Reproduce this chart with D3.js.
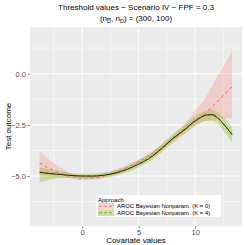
<!DOCTYPE html>
<html>
<head>
<meta charset="utf-8">
<script src="https://cdn.jsdelivr.net/npm/d3@7"></script>
<style>
  body { margin: 0; background: #fff; }
  svg { display: block; font-family: "Liberation Sans", Arial, sans-serif; }
</style>
</head>
<body>
<svg id="chart" width="245" height="245"></svg>
<script>
// Covariate grid and curves
const covariate = [-3.77, -3, -2, -1, 0, 1, 2, 3, 4, 5, 6, 7, 8, 9, 10, 11, 11.5, 12, 12.5, 13.27];
const trueThreshold = [-4.82, -4.87, -4.92, -4.97, -5.0, -5.0, -4.95, -4.85, -4.67, -4.42, -4.12, -3.68, -3.18, -2.76, -2.3, -2.02, -2.0, -2.16, -2.45, -2.98];
const k0Est = [-4.36, -4.6, -4.85, -5.02, -5.1, -5.08, -4.98, -4.8, -4.58, -4.3, -3.98, -3.6, -3.2, -2.78, -2.36, -1.9, -1.62, -1.34, -1.06, -0.63];
const k0Lower = [-4.95, -5.0, -5.05, -5.12, -5.2, -5.18, -5.08, -4.9, -4.68, -4.4, -4.1, -3.72, -3.32, -2.9, -2.5, -2.3, -2.25, -2.22, -2.2, -2.16];
const k0Upper = [-3.74, -4.15, -4.55, -4.85, -4.98, -4.97, -4.87, -4.7, -4.48, -4.2, -3.86, -3.48, -3.06, -2.5, -1.8, -1.1, -0.6, -0.1, 0.35, 1.09];
const k4Est = [-4.8, -4.86, -4.92, -4.97, -5.0, -5.0, -4.94, -4.83, -4.65, -4.4, -4.08, -3.66, -3.18, -2.74, -2.32, -2.04, -2.02, -2.16, -2.45, -2.95];
const k4Lower = [-5.3, -5.2, -5.1, -5.1, -5.12, -5.12, -5.08, -4.98, -4.82, -4.58, -4.28, -3.86, -3.4, -2.97, -2.57, -2.3, -2.3, -2.45, -2.8, -3.35];
const k4Upper = [-4.6, -4.65, -4.75, -4.85, -4.88, -4.88, -4.8, -4.68, -4.48, -4.22, -3.9, -3.46, -2.96, -2.52, -2.07, -1.8, -1.76, -1.88, -2.12, -2.6];

const xTicks = [0, 5, 10];
const xMinor = [-2.5, 2.5, 7.5, 12.5];
const yTicks = [-5, -2.5, 0];
const yMinor = [-6.25, -3.75, -1.25, 1.25];

const approaches = [
    { label: "AROC Bayesian Nonparam. (K = 0)", color: "#F8766D", est: k0Est, lo: k0Lower, hi: k0Upper, fillOpacity: 0.25 },
    { label: "AROC Bayesian Nonparam. (K = 4)", color: "#7CAE00", est: k4Est, lo: k4Lower, hi: k4Upper, fillOpacity: 0.3 }
];

const svg = d3.select("#chart");
const panel = { left: 30, right: 242, top: 27, bottom: 226 };

const x = d3.scaleLinear().domain([-4.62, 14.15]).range([panel.left, panel.right]);
const y = d3.scaleLinear().domain([-7.44, 2.28]).range([panel.bottom, panel.top]);

// panel background
svg.append("rect")
    .attr("x", panel.left).attr("y", panel.top)
    .attr("width", panel.right - panel.left).attr("height", panel.bottom - panel.top)
    .attr("fill", "#EBEBEB");

const grid = svg.append("g");
xMinor.forEach(v => grid.append("line")
    .attr("x1", x(v)).attr("x2", x(v)).attr("y1", panel.top).attr("y2", panel.bottom)
    .attr("stroke", "#fff").attr("stroke-width", 0.5));
yMinor.forEach(v => grid.append("line")
    .attr("y1", y(v)).attr("y2", y(v)).attr("x1", panel.left).attr("x2", panel.right)
    .attr("stroke", "#fff").attr("stroke-width", 0.5));
xTicks.forEach(v => grid.append("line")
    .attr("x1", x(v)).attr("x2", x(v)).attr("y1", panel.top).attr("y2", panel.bottom)
    .attr("stroke", "#fff").attr("stroke-width", 1));
yTicks.forEach(v => grid.append("line")
    .attr("y1", y(v)).attr("y2", y(v)).attr("x1", panel.left).attr("x2", panel.right)
    .attr("stroke", "#fff").attr("stroke-width", 1));

const idx = d3.range(covariate.length);

const area = (lo, hi) => d3.area()
    .x(i => x(covariate[i]))
    .y0(i => y(lo[i]))
    .y1(i => y(hi[i]))
    .curve(d3.curveMonotoneX);

const line = vals => d3.line()
    .x(i => x(covariate[i]))
    .y(i => y(vals[i]))
    .curve(d3.curveMonotoneX);

approaches.forEach(a => {
    svg.append("path")
        .attr("d", area(a.lo, a.hi)(idx))
        .attr("fill", a.color)
        .attr("fill-opacity", a.fillOpacity);
});

approaches.forEach(a => {
    svg.append("path")
        .attr("d", line(a.est)(idx))
        .attr("fill", "none")
        .attr("stroke", a.color)
        .attr("stroke-width", 1.1)
        .attr("stroke-dasharray", "3,3");
});

svg.append("path")
    .attr("d", line(trueThreshold)(idx))
    .attr("fill", "none")
    .attr("stroke", "#000")
    .attr("stroke-width", 0.8);

// axes
const xAxis = svg.append("g")
    .attr("transform", `translate(0,${panel.bottom})`)
    .call(d3.axisBottom(x).tickValues(xTicks).tickSize(2.5).tickPadding(1).tickFormat(d3.format("d")));
const yAxis = svg.append("g")
    .attr("transform", `translate(${panel.left},0)`)
    .call(d3.axisLeft(y).tickValues(yTicks).tickSize(2.5).tickPadding(1.5)
        .tickFormat(d => d3.format(".1f")(d).replace("-", "\u2212")));

[xAxis, yAxis].forEach(ax => {
    ax.select(".domain").remove();
    ax.selectAll(".tick line").attr("stroke", "#333").attr("stroke-width", 0.6);
    ax.selectAll(".tick text").attr("fill", "#4D4D4D").style("font-size", "7.5px")
        .style("font-family", "'Liberation Sans', Arial, sans-serif");
});

// titles
svg.append("text")
    .attr("x", 136).attr("y", 10)
    .attr("text-anchor", "middle")
    .style("font-size", "8px")
    .text("Threshold values \u2212 Scenario IV \u2212 FPF = 0.3");

const sub = svg.append("text")
    .attr("x", 136).attr("y", 21)
    .attr("text-anchor", "middle")
    .style("font-size", "8px");
sub.append("tspan").text("(n");
sub.append("tspan").attr("baseline-shift", "-25%").style("font-size", "5.5px").style("text-decoration", "overline").text("D");
sub.append("tspan").text(", n");
sub.append("tspan").attr("baseline-shift", "-25%").style("font-size", "5.5px").text("D");
sub.append("tspan").text(") = (300, 100)");

svg.append("text")
    .attr("x", 136).attr("y", 243)
    .attr("text-anchor", "middle")
    .style("font-size", "8px")
    .text("Covariate values");

svg.append("text")
    .attr("transform", `translate(11,${(panel.top + panel.bottom) / 2}) rotate(-90)`)
    .attr("text-anchor", "middle")
    .style("font-size", "8px")
    .text("Test outcome");

// legend
const legend = svg.append("g").attr("transform", "translate(96,195)");
legend.append("rect")
    .attr("width", 125).attr("height", 22)
    .attr("fill", "#fff");
legend.append("text")
    .attr("x", 2).attr("y", 6.5)
    .style("font-size", "6px")
    .text("Approach");

approaches.forEach((a, i) => {
    const row = legend.append("g").attr("transform", `translate(2,${8 + i * 6.5})`);
    row.append("rect").attr("width", 16).attr("height", 6.5).attr("fill", "#F2F2F2");
    row.append("rect").attr("width", 16).attr("height", 6.5)
        .attr("fill", a.color).attr("fill-opacity", a.fillOpacity);
    row.append("line")
        .attr("x1", 1).attr("x2", 15).attr("y1", 3.25).attr("y2", 3.25)
        .attr("stroke", a.color).attr("stroke-width", 1.1)
        .attr("stroke-dasharray", "3,2");
    row.append("text")
        .attr("x", 19).attr("y", 5.3)
        .style("font-size", "5.9px")
        .text(a.label);
});
</script>
</body>
</html>
